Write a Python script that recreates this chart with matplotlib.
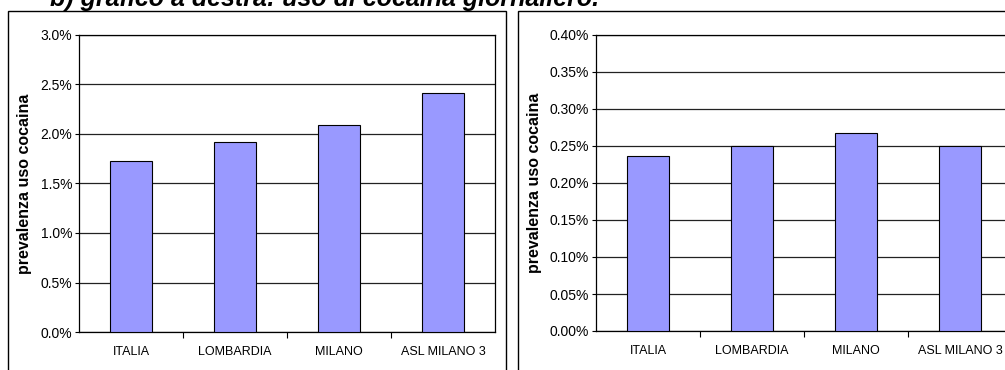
import matplotlib
matplotlib.use("Agg")
import matplotlib.pyplot as plt
from matplotlib.patches import Rectangle
from matplotlib.ticker import FuncFormatter, FixedLocator
import numpy as np

plt.rcParams['font.family'] = ['Liberation Sans', 'DejaVu Sans']

# data
categories = ['ITALIA', 'LOMBARDIA', 'MILANO', 'ASL MILANO 3']
uso_anno = [1.73, 1.92, 2.09, 2.41]          # % prevalenza, grafico sinistra
uso_giorno = [0.237, 0.250, 0.2675, 0.250]    # % prevalenza, grafico destra
title = 'b) grafico a destra: uso di cocaina giornaliero.'
ylabel = 'prevalenza uso cocaina'

bar_color = '#9999FF'

fig = plt.figure(figsize=[10.05, 3.7], dpi=100)

# chart-area frames (Excel style)
fig.patches.append(Rectangle((8/1005, -0.05), 498/1005, 1 - 11/370 + 0.05,
                             transform=fig.transFigure, fill=False,
                             edgecolor='black', linewidth=1.0))
fig.patches.append(Rectangle((518/1005, -0.05), 0.6, 1 - 11/370 + 0.05,
                             transform=fig.transFigure, fill=False,
                             edgecolor='black', linewidth=1.0))

# title sits mostly above the page edge, as in the source
fig.text(50/1005, 1 - 6/370, title, fontsize=18, fontweight='bold',
         style='italic', va='baseline', ha='left')


def draw_panel(rect, values, ymax, step, decimals, label_x):
  ax = fig.add_axes(rect)
  x = np.arange(len(categories))
  ax.bar(x, values, width=0.4, color=bar_color, edgecolor='black',
         linewidth=0.8, zorder=3)
  ax.set_xlim(-0.5, len(categories) - 0.5)
  ax.set_ylim(0, ymax)
  ax.set_yticks(np.arange(0, ymax + step / 2, step))
  ax.yaxis.set_major_formatter(FuncFormatter(lambda v, p: '{:.{}f}%'.format(v, decimals)))
  ax.grid(axis='y', color='#222222', linewidth=0.9, zorder=0)
  ax.set_axisbelow(True)
  # ticks at category boundaries, labels at centres
  ax.xaxis.set_major_locator(FixedLocator(np.arange(0.5, len(categories) - 0.5, 1)))
  ax.xaxis.set_major_formatter(FuncFormatter(lambda v, p: ''))
  ax.xaxis.set_minor_locator(FixedLocator(x))
  ax.set_xticklabels(categories, minor=True)
  ax.tick_params(axis='x', which='major', direction='out', length=4, width=0.8)
  ax.tick_params(axis='x', which='minor', length=0, pad=10, labelsize=9)
  ax.tick_params(axis='y', direction='out', length=3, width=0.8, pad=2,
                 labelsize=10)
  for s in ax.spines.values():
    s.set_linewidth(0.9)
  ax.set_ylabel(ylabel, fontsize=11.5, fontweight='bold')
  ax.yaxis.set_label_coords(label_x, 0.5)
  return ax


draw_panel([79/1005, 38/370, 416/1005, 297/370], uso_anno, 3.0, 0.5, 1, -0.113)
draw_panel([596/1005, 39/370, 416/1005, 296/370], uso_giorno, 0.40, 0.05, 2, -0.13)

fig.savefig('out.png', dpi=100)
